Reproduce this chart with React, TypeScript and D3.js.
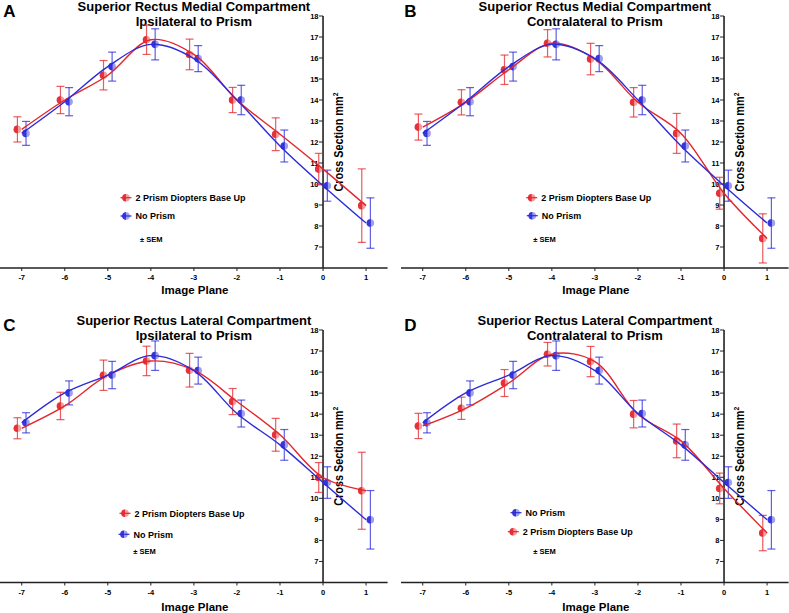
import React from "react";
import * as d3 from "d3";

const planes = [-7, -6, -5, -4, -3, -2, -1, 0, 1];
const xTicks = [-7, -6, -5, -4, -3, -2, -1, 0, 1];
const yTicks = [7, 8, 9, 10, 11, 12, 13, 14, 15, 16, 17, 18];

const medialIpsiPrism = [12.6, 14.0, 15.18, 16.87, 16.17, 14.0, 12.37, 10.71, 8.97];
const medialIpsiPrismSem = [0.6, 0.65, 0.7, 0.7, 0.73, 0.6, 0.78, 0.75, 1.75];
const medialContraPrism = [12.71, 13.89, 15.44, 16.7, 15.95, 13.89, 12.41, 9.56, 7.41];
const medialContraPrismSem = [0.62, 0.6, 0.7, 0.65, 0.75, 0.7, 0.95, 0.76, 1.17];
const medialNoPrism = [12.41, 13.92, 15.59, 16.65, 15.97, 14.0, 11.81, 9.92, 8.14];
const medialNoPrismSem = [0.57, 0.67, 0.69, 0.74, 0.62, 0.7, 0.76, 0.74, 1.2];

const lateralIpsiPrism = [13.33, 14.39, 15.85, 16.53, 16.09, 14.6, 13.02, 10.99, 10.36];
const lateralIpsiPrismSem = [0.5, 0.65, 0.72, 0.7, 0.8, 0.62, 0.78, 0.71, 1.83];
const lateralContraPrism = [13.44, 14.28, 15.48, 16.85, 16.5, 14.0, 12.73, 10.47, 8.35];
const lateralContraPrismSem = [0.6, 0.53, 0.64, 0.56, 0.72, 0.65, 0.8, 0.73, 0.84];
const lateralNoPrism = [13.59, 15.01, 15.86, 16.78, 16.07, 14.03, 12.54, 10.75, 8.98];
const lateralNoPrismSem = [0.48, 0.57, 0.65, 0.7, 0.64, 0.64, 0.73, 0.75, 1.39];

const prismLabel = "2 Prism Diopters Base Up";
const noPrismLabel = "No Prism";

const RED = "#e3262b";
const BLUE = "#2b2bd9";
const FONT = "'Liberation Sans', Arial, Helvetica, sans-serif";

type Series = { name: string; values: number[]; sem: number[]; color: string; offset: number };

type PanelCfg = {
  letter: string;
  title1: string;
  title2: string;
  xRange: [number, number];
  yRange: [number, number];
  series: Series[];
  legendOrder: number[];
  legendY: number[];
  legendX: number[];
  semPos: [number, number];
  titleY: [number, number];
  xTitleY: number;
};

const panels: PanelCfg[] = [
  {
    letter: "A",
    title1: "Superior Rectus Medial Compartment",
    title2: "Ipsilateral to Prism",
    xRange: [0.2, 387.6],
    yRange: [268, 16],
    series: [
      { name: prismLabel, values: medialIpsiPrism, sem: medialIpsiPrismSem, color: RED, offset: -0.1 },
      { name: noPrismLabel, values: medialNoPrism, sem: medialNoPrismSem, color: BLUE, offset: 0.1 },
    ],
    legendOrder: [0, 1],
    legendY: [197.7, 216],
    legendX: [126, 126],
    semPos: [140, 239.7],
    titleY: [11, 26],
    xTitleY: 294,
  },
  {
    letter: "B",
    title1: "Superior Rectus Medial Compartment",
    title2: "Contralateral to Prism",
    xRange: [401.2, 788.6],
    yRange: [268, 16],
    series: [
      { name: prismLabel, values: medialContraPrism, sem: medialContraPrismSem, color: RED, offset: -0.1 },
      { name: noPrismLabel, values: medialNoPrism, sem: medialNoPrismSem, color: BLUE, offset: 0.1 },
    ],
    legendOrder: [0, 1],
    legendY: [197.7, 215.7],
    legendX: [531.7, 532.3],
    semPos: [533.3, 239.7],
    titleY: [11, 26],
    xTitleY: 294,
  },
  {
    letter: "C",
    title1: "Superior Rectus Lateral Compartment",
    title2: "Ipsilateral to Prism",
    xRange: [0.2, 387.6],
    yRange: [582.5, 330],
    series: [
      { name: prismLabel, values: lateralIpsiPrism, sem: lateralIpsiPrismSem, color: RED, offset: -0.1 },
      { name: noPrismLabel, values: lateralNoPrism, sem: lateralNoPrismSem, color: BLUE, offset: 0.1 },
    ],
    legendOrder: [0, 1],
    legendY: [513.3, 534.3],
    legendX: [125, 124],
    semPos: [133.3, 551],
    titleY: [325, 340],
    xTitleY: 610.5,
  },
  {
    letter: "D",
    title1: "Superior Rectus Lateral Compartment",
    title2: "Contralateral to Prism",
    xRange: [401.2, 788.6],
    yRange: [582.5, 330],
    series: [
      { name: prismLabel, values: lateralContraPrism, sem: lateralContraPrismSem, color: RED, offset: -0.1 },
      { name: noPrismLabel, values: lateralNoPrism, sem: lateralNoPrismSem, color: BLUE, offset: 0.1 },
    ],
    legendOrder: [1, 0],
    legendY: [512.7, 531.7],
    legendX: [516, 513.3],
    semPos: [533.3, 551],
    titleY: [325, 340],
    xTitleY: 610.5,
  },
];

function Marker({ cx, cy, color }: { cx: number; cy: number; color: string }) {
  const r = 3.8;
  return (
    <g>
      <circle cx={cx} cy={cy} r={r} fill={color} fillOpacity={0.45} />
      <path
        d={`M${cx},${cy - r} A${r},${r} 0 0,0 ${cx},${cy + r} Z`}
        fill={color}
        fillOpacity={0.9}
      />
    </g>
  );
}

function Panel({ cfg }: { cfg: PanelCfg }) {
  const x = d3.scaleLinear().domain([-7.5, 1.5]).range(cfg.xRange);
  const y = d3.scaleLinear().domain([6, 18]).range(cfg.yRange);
  const line = d3
    .line<number>()
    .x((_, i) => x(planes[i]))
    .y((v) => y(v))
    .curve(d3.curveCatmullRom.alpha(0.5));
  const x0 = x(0);
  const yBase = y(6);
  const titleCx = (cfg.xRange[0] + cfg.xRange[1]) / 2;
  const letterX = cfg.xRange[0] + 3;
  const yTitleY = (y(18) + yBase) / 2;
  return (
    <g>
      <text x={letterX} y={cfg.titleY[0] + 6} fontSize={17} fontWeight="bold" fontFamily={FONT}>
        {cfg.letter}
      </text>
      <text x={titleCx} y={cfg.titleY[0]} textAnchor="middle" fontSize={13} fontWeight="bold" fontFamily={FONT}>
        {cfg.title1}
      </text>
      <text x={titleCx} y={cfg.titleY[1]} textAnchor="middle" fontSize={13} fontWeight="bold" fontFamily={FONT}>
        {cfg.title2}
      </text>

      {/* axes */}
      <line x1={cfg.xRange[0] - 0.2} x2={cfg.xRange[1]} y1={yBase} y2={yBase} stroke="#222" strokeWidth={1.6} />
      <line x1={x0} x2={x0} y1={y(18)} y2={yBase} stroke="#222" strokeWidth={1.6} />
      {xTicks.map((t) => (
        <g key={"xt" + t}>
          <line x1={x(t)} x2={x(t)} y1={yBase} y2={yBase + 3} stroke="#222" strokeWidth={1} />
          <text x={x(t)} y={yBase + 12} textAnchor="middle" fontSize={7.5} fontWeight="bold" fontFamily={FONT}>
            {t}
          </text>
        </g>
      ))}
      {yTicks.map((t) => (
        <g key={"yt" + t}>
          <line x1={x0 - 4} x2={x0} y1={y(t)} y2={y(t)} stroke="#222" strokeWidth={1} />
          <text x={x0 - 4.5} y={y(t) + 2.7} textAnchor="end" fontSize={7.5} fontWeight="bold" fontFamily={FONT}>
            {t}
          </text>
        </g>
      ))}
      <text x={titleCx + 1} y={cfg.xTitleY} textAnchor="middle" fontSize={11.5} fontWeight="bold" fontFamily={FONT}>
        Image Plane
      </text>
      <text
        transform={`translate(${x0 + 20},${yTitleY}) rotate(-90)`}
        textAnchor="middle"
        fontSize={12.5}
        fontWeight="bold"
        fontFamily={FONT}
        textLength={99}
        lengthAdjust="spacingAndGlyphs"
      >
        Cross Section mm<tspan fontSize={8} dy={-5}>2</tspan>
      </text>

      {/* error bars and markers */}
      {cfg.series.map((s, si) => (
        <g key={"s" + si}>
          {s.values.map((v, i) => {
            const px = x(planes[i] + s.offset);
            const yt = y(v + s.sem[i]);
            const yb = y(v - s.sem[i]);
            return (
              <g key={i} stroke={s.color} strokeOpacity={0.75} strokeWidth={1.2}>
                <line x1={px} x2={px} y1={yt} y2={yb} />
                <line x1={px - 4} x2={px + 4} y1={yt} y2={yt} />
                <line x1={px - 4} x2={px + 4} y1={yb} y2={yb} />
              </g>
            );
          })}
          {s.values.map((v, i) => (
            <Marker key={"m" + i} cx={x(planes[i] + s.offset)} cy={y(v)} color={s.color} />
          ))}
        </g>
      ))}
      {cfg.series.map((s, si) => (
        <path key={"l" + si} d={line(s.values) || ""} fill="none" stroke={s.color} strokeWidth={1.4} />
      ))}

      {/* legend */}
      {cfg.legendOrder.map((si, k) => {
        const s = cfg.series[si];
        const lx = cfg.legendX[k];
        const ly = cfg.legendY[k];
        return (
          <g key={"lg" + k}>
            <line x1={lx - 5.5} x2={lx + 5.5} y1={ly} y2={ly} stroke={s.color} strokeWidth={1.2} />
            <Marker cx={lx} cy={ly} color={s.color} />
            <text x={lx + 9.5} y={ly + 3.2} fontSize={9} fontWeight="bold" fontFamily={FONT}>
              {s.name}
            </text>
          </g>
        );
      })}
      <text x={cfg.semPos[0]} y={cfg.semPos[1] + 2.5} fontSize={7.5} fontWeight="bold" fontFamily={FONT}>
        ± SEM
      </text>
    </g>
  );
}

export default function App() {
  return (
    <svg
      width={789}
      height={613}
      viewBox="0 0 789 613"
      style={{ position: "absolute", left: 0, top: 0, background: "#fff" }}
    >
      <rect width={789} height={613} fill="#fff" />
      {panels.map((p) => (
        <Panel key={p.letter} cfg={p} />
      ))}
    </svg>
  );
}
